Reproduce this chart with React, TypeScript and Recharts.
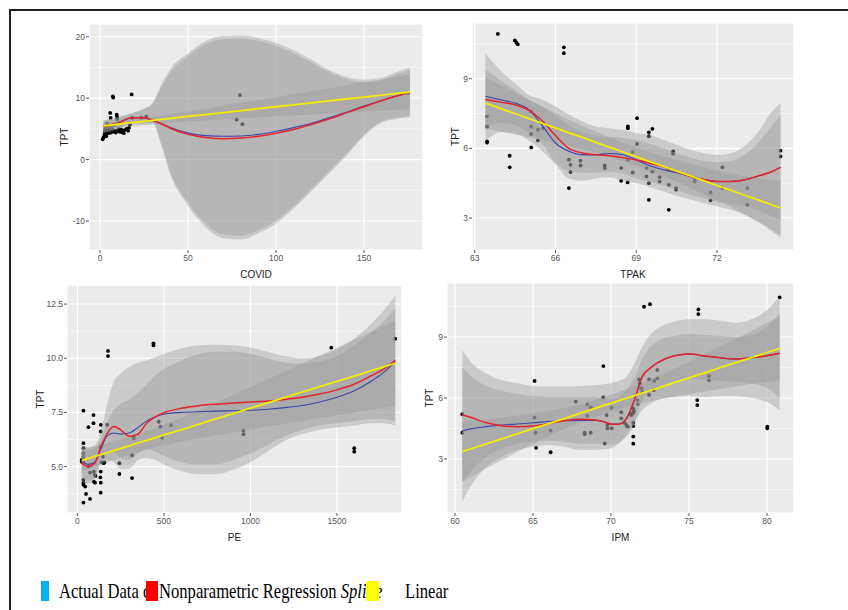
import { ComposedChart, XAxis, YAxis, CartesianGrid, Area, Line, Scatter } from "recharts";

// ---- COVID panel ----
const covidX = [2, 10, 18, 25, 30, 35, 40, 50, 60, 70, 80, 90, 100, 110, 120, 130, 140, 150, 160, 168, 176];
const covidRed = [5.4, 5.9, 6.8, 6.8, 6.4, 5.8, 5.1, 4.1, 3.6, 3.4, 3.5, 3.8, 4.3, 4.9, 5.7, 6.6, 7.6, 8.6, 9.6, 10.3, 10.9];
const covidBlue = [5.5, 6.0, 6.8, 6.8, 6.4, 5.85, 5.2, 4.3, 3.9, 3.8, 3.85, 4.1, 4.6, 5.2, 5.9, 6.8, 7.7, 8.7, 9.6, 10.3, 10.9];
const covidLinear = [5.5, 5.75, 6.0, 6.23, 6.39, 6.54, 6.7, 7.02, 7.33, 7.65, 7.97, 8.28, 8.6, 8.91, 9.23, 9.55, 9.86, 10.18, 10.49, 10.75, 11.0];
const covidBandAHi = [6.4, 6.9, 7.6, 8.3, 9.3, 12.3, 14.8, 17.3, 19.3, 20.1, 20.2, 19.8, 19.0, 17.8, 16.3, 14.6, 13.5, 13.0, 13.3, 14.2, 15.0];
const covidBandALo = [4.3, 4.9, 5.8, 5.9, 5.9, 2.0, -2.5, -7.5, -11.0, -12.8, -13.0, -12.0, -10.4, -8.0, -5.2, -2.3, 0.6, 3.8, 6.0, 6.6, 6.9];
const covidBandBHi = [6.3, 6.8, 7.5, 8.2, 9.1, 11.8, 14.2, 16.8, 18.8, 19.6, 19.7, 19.3, 18.5, 17.3, 15.8, 14.2, 13.1, 12.6, 12.9, 13.8, 14.6];
const covidBandBLo = [4.4, 5.0, 5.9, 6.0, 6.0, 2.6, -2.0, -7.0, -10.4, -12.2, -12.4, -11.5, -9.9, -7.6, -4.8, -1.9, 1.0, 4.1, 6.2, 6.8, 7.1];
const covidLinLo = [4.9, 5.2, 5.45, 5.63, 5.77, 5.89, 6.0, 6.22, 6.38, 6.55, 6.72, 6.88, 7.05, 7.16, 7.33, 7.5, 7.66, 7.78, 7.94, 8.1, 8.2];
const covidLinHi = [6.1, 6.3, 6.55, 6.83, 7.01, 7.19, 7.4, 7.82, 8.28, 8.75, 9.22, 9.68, 10.15, 10.66, 11.13, 11.6, 12.06, 12.58, 13.04, 13.4, 13.8];
const covidPoints: [number, number][] = [
  [1.5, 3.3], [2, 3.6], [2.5, 4.0], [2.8, 4.4], [3, 4.7], [3, 5.0], [3.2, 5.4], [3.5, 3.8], [3.8, 4.2], [4, 5.8],
  [4.2, 4.5], [4.5, 4.9], [5, 4.3], [5, 5.2], [5.5, 4.6], [5.8, 7.6], [6, 6.8], [6.2, 4.4], [6.5, 5.1], [7, 4.8],
  [7.3, 10.3], [7.5, 10.1], [7.8, 4.5], [8, 5.6], [8.5, 4.7], [9, 4.4], [9.5, 7.3], [9.7, 7.0], [9.8, 6.6], [10, 4.6],
  [10.5, 5.0], [11, 4.8], [11.5, 4.5], [12, 4.9], [12.5, 4.5], [13, 4.7], [13.5, 4.3], [14, 4.8], [15, 5.0], [16, 4.7],
  [16.5, 5.2], [17, 5.7], [18, 10.6], [18.3, 6.8], [23.4, 6.8], [26.3, 7.0], [77.6, 6.5], [79.5, 10.5], [80.9, 5.75], [175, 10.85],
];

// ---- TPAK panel ----
const tpakX = [63.4, 64, 64.5, 65, 65.5, 66, 66.5, 67, 67.5, 68, 68.5, 69, 69.5, 70, 70.5, 71, 71.5, 72, 72.5, 73, 73.5, 74, 74.36];
const tpakRed = [8.1, 7.98, 7.88, 7.65, 7.2, 6.55, 6.0, 5.8, 5.72, 5.68, 5.6, 5.5, 5.36, 5.22, 5.0, 4.79, 4.66, 4.57, 4.57, 4.64, 4.8, 4.98, 5.18];
const tpakBlue = [8.24, 8.08, 7.95, 7.68, 7.0, 6.23, 5.87, 5.72, 5.72, 5.78, 5.72, 5.5, 5.25, 5.08, 4.95, 4.8, 4.66, 4.57, 4.57, 4.64, 4.8, 4.98, 5.18];
const tpakLinear = [7.95, 7.7, 7.5, 7.29, 7.08, 6.88, 6.67, 6.47, 6.26, 6.05, 5.85, 5.64, 5.43, 5.23, 5.02, 4.82, 4.61, 4.4, 4.2, 3.99, 3.79, 3.58, 3.43];
const tpakBandAHi = [10.1, 9.3, 8.8, 8.3, 8.1, 7.8, 7.45, 7.16, 6.94, 6.87, 6.8, 6.66, 6.58, 6.37, 6.15, 5.94, 5.8, 5.72, 5.79, 6.08, 6.66, 7.52, 7.95];
const tpakBandALo = [6.3, 6.7, 6.65, 6.35, 5.9, 5.3, 4.7, 4.6, 4.7, 4.75, 4.6, 4.5, 4.35, 4.15, 3.95, 3.8, 3.65, 3.5, 3.35, 3.15, 2.85, 2.45, 2.15];
const tpakBandBHi = [9.4, 8.9, 8.5, 8.1, 7.8, 7.4, 7.0, 6.7, 6.55, 6.5, 6.45, 6.35, 6.2, 6.0, 5.8, 5.6, 5.45, 5.4, 5.45, 5.7, 6.2, 6.9, 7.4];
const tpakBandBLo = [6.9, 7.1, 7.0, 6.7, 6.2, 5.4, 5.0, 4.95, 4.95, 5.0, 4.9, 4.7, 4.55, 4.4, 4.2, 4.0, 3.85, 3.7, 3.6, 3.5, 3.35, 3.1, 2.9];
const tpakLinLo = [6.85, 6.7, 6.6, 6.49, 6.36, 6.24, 6.11, 5.97, 5.81, 5.63, 5.45, 5.24, 5.02, 4.8, 4.55, 4.3, 4.03, 3.75, 3.47, 3.17, 2.87, 2.53, 2.28];
const tpakLinHi = [9.05, 8.7, 8.4, 8.09, 7.8, 7.52, 7.23, 6.97, 6.71, 6.47, 6.25, 6.04, 5.84, 5.66, 5.49, 5.34, 5.19, 5.05, 4.93, 4.81, 4.71, 4.63, 4.58];
const tpakPoints: [number, number][] = [
  [63.86, 10.93], [64.49, 10.65], [64.55, 10.56], [64.6, 10.48], [66.31, 10.35], [66.31, 10.1],
  [63.46, 7.38], [63.46, 6.94], [63.46, 6.3], [63.46, 6.25], [64.3, 5.68], [64.3, 5.18],
  [65.1, 7.59], [65.1, 6.94], [65.1, 6.62], [65.1, 6.04], [65.35, 6.8], [65.35, 6.34], [65.53, 6.87],
  [66.5, 5.51], [66.56, 5.29], [66.56, 4.98], [66.5, 4.29], [66.93, 5.47], [66.93, 5.26],
  [67.83, 5.26], [67.83, 5.15], [68.44, 5.15], [68.44, 4.6], [68.68, 4.53], [68.69, 6.94], [68.69, 6.87], [68.69, 5.51],
  [68.87, 4.96], [68.87, 5.84], [69.03, 7.3], [69.03, 6.19], [69.38, 5.15], [69.38, 4.79], [69.47, 6.69], [69.47, 6.52],
  [69.6, 6.84], [69.47, 4.5], [69.47, 3.78], [69.6, 5.0], [69.87, 4.76], [69.87, 4.57], [70.21, 5.1], [70.21, 4.43],
  [70.21, 3.35], [70.37, 5.87], [70.37, 5.77], [70.48, 4.29], [70.48, 4.22], [71.17, 4.57], [71.17, 4.64],
  [71.76, 4.1], [71.76, 3.76], [72.2, 5.19], [72.2, 4.29], [73.13, 4.29], [73.13, 3.57], [74.36, 5.9], [74.36, 5.65],
];

// ---- PE panel ----
const peX = [25, 60, 100, 135, 170, 210, 250, 300, 350, 400, 450, 500, 600, 700, 800, 900, 1000, 1100, 1200, 1300, 1400, 1500, 1600, 1700, 1770, 1837];
const peRed = [5.2, 5.0, 5.15, 5.9, 6.5, 6.85, 6.7, 6.4, 6.5, 7.0, 7.3, 7.49, 7.69, 7.81, 7.88, 7.93, 7.98, 8.03, 8.1, 8.2, 8.35, 8.54, 8.8, 9.2, 9.5, 9.9];
const peBlue = [5.35, 5.1, 5.2, 5.8, 6.4, 6.55, 6.5, 6.55, 6.8, 7.1, 7.3, 7.42, 7.5, 7.53, 7.56, 7.58, 7.6, 7.65, 7.72, 7.82, 7.98, 8.2, 8.5, 8.95, 9.35, 9.85];
const peLinear = [5.28, 5.37, 5.47, 5.55, 5.64, 5.74, 5.84, 5.96, 6.09, 6.21, 6.33, 6.46, 6.7, 6.95, 7.2, 7.45, 7.7, 7.94, 8.19, 8.44, 8.69, 8.93, 9.18, 9.43, 9.6, 9.77];
const peBandAHi = [6.1, 5.9, 6.0, 6.6, 7.8, 8.9, 9.3, 9.6, 9.8, 9.9, 10.05, 10.2, 10.45, 10.6, 10.62, 10.6, 10.5, 10.3, 10.1, 10.0, 10.1, 10.4, 10.9, 11.6, 12.2, 12.9];
const peBandALo = [4.3, 4.2, 4.4, 5.1, 5.3, 5.2, 4.9, 4.9, 5.3, 5.4, 5.3, 5.1, 4.8, 4.65, 4.65, 4.85, 5.2, 5.7, 6.2, 6.5, 6.7, 6.8, 6.9, 7.0, 7.0, 6.9];
const peBandBHi = [5.9, 5.75, 5.85, 6.3, 7.0, 7.6, 7.9, 8.1, 8.4, 8.8, 9.2, 9.5, 9.9, 10.2, 10.3, 10.3, 10.2, 10.0, 9.8, 9.75, 9.85, 10.1, 10.6, 11.2, 11.7, 12.3];
const peBandBLo = [4.5, 4.35, 4.5, 5.3, 5.7, 5.7, 5.4, 5.3, 5.6, 5.8, 5.7, 5.5, 5.2, 5.1, 5.1, 5.3, 5.6, 6.0, 6.4, 6.7, 6.9, 7.0, 7.1, 7.2, 7.2, 7.1];
const peLinLo = [4.78, 4.89, 5.01, 5.1, 5.2, 5.31, 5.42, 5.54, 5.67, 5.78, 5.88, 5.98, 6.15, 6.3, 6.45, 6.59, 6.73, 6.86, 6.99, 7.12, 7.25, 7.37, 7.5, 7.63, 7.72, 7.81];
const peLinHi = [5.78, 5.85, 5.93, 6.0, 6.08, 6.17, 6.26, 6.38, 6.51, 6.64, 6.78, 6.94, 7.25, 7.6, 7.95, 8.31, 8.67, 9.02, 9.39, 9.76, 10.13, 10.49, 10.86, 11.23, 11.48, 11.73];
const pePoints: [number, number][] = [
  [25, 5.31], [25, 5.23], [35, 7.58], [35, 6.08], [35, 5.85], [35, 5.62], [35, 5.46], [35, 5.16], [35, 4.39], [35, 4.26],
  [35, 4.16], [35, 3.34], [45, 4.08], [50, 3.74], [64, 6.82], [64, 5.0], [73, 3.51], [73, 4.72], [93, 7.38], [93, 7.0],
  [95, 4.77], [100, 4.62], [105, 4.57], [95, 4.31], [102, 4.26], [135, 6.93], [135, 6.62], [135, 5.92], [135, 4.77], [133, 4.5],
  [135, 4.26], [135, 3.8], [141, 5.2], [147, 5.46], [152, 5.16], [156, 5.2], [173, 6.93], [177, 10.34], [177, 10.1], [243, 5.16],
  [243, 4.66], [316, 5.53], [316, 4.47], [326, 6.31], [326, 6.38], [440, 10.69], [440, 10.6], [470, 7.07], [480, 6.84], [490, 6.33],
  [542, 6.91], [960, 6.66], [960, 6.49], [1467, 10.49], [1600, 5.85], [1600, 5.69], [1837, 10.9],
];

// ---- IPM panel ----
const ipmX = [60.47, 61, 62, 63, 64, 65, 66, 67, 68, 69, 69.5, 70, 70.5, 71, 71.5, 72, 72.5, 73, 74, 75, 76, 77, 78, 79, 80, 80.81];
const ipmRed = [5.16, 5.05, 4.78, 4.64, 4.59, 4.62, 4.75, 4.88, 4.95, 4.92, 4.84, 4.71, 4.71, 5.0, 5.9, 7.05, 7.46, 7.74, 8.07, 8.16, 8.07, 7.98, 7.92, 7.98, 8.08, 8.2];
const ipmBlue = [4.38, 4.48, 4.59, 4.67, 4.72, 4.78, 4.84, 4.88, 4.9, 4.9, 4.84, 4.73, 4.72, 5.0, 5.9, 7.05, 7.46, 7.74, 8.07, 8.16, 8.07, 7.98, 7.92, 7.98, 8.08, 8.2];
const ipmLinear = [3.36, 3.49, 3.74, 3.99, 4.24, 4.49, 4.74, 4.99, 5.24, 5.49, 5.62, 5.74, 5.87, 5.99, 6.12, 6.24, 6.37, 6.49, 6.74, 6.99, 7.24, 7.49, 7.74, 7.99, 8.24, 8.44];
const ipmBandAHi = [8.36, 7.79, 7.21, 6.88, 6.72, 6.59, 6.56, 6.56, 6.59, 6.64, 6.68, 6.72, 6.85, 7.05, 7.7, 8.52, 9.1, 9.43, 9.75, 9.87, 9.87, 9.8, 9.7, 9.87, 10.33, 10.98];
const ipmBandALo = [0.9, 1.64, 2.62, 3.11, 3.44, 3.6, 3.69, 3.6, 3.44, 3.44, 3.48, 3.52, 3.77, 4.2, 4.8, 5.4, 5.7, 5.9, 6.05, 6.1, 6.05, 6.1, 6.1, 6.0, 5.8, 5.4];
const ipmBandBHi = [7.5, 7.1, 6.6, 6.35, 6.2, 6.1, 6.05, 6.05, 6.05, 6.05, 6.0, 5.95, 6.05, 6.4, 7.0, 7.9, 8.5, 8.8, 9.05, 9.15, 9.1, 9.05, 9.0, 9.1, 9.5, 10.2];
const ipmBandBLo = [1.9, 2.4, 3.1, 3.5, 3.75, 3.85, 3.9, 3.85, 3.75, 3.75, 3.75, 3.7, 3.8, 4.1, 4.7, 5.9, 6.3, 6.5, 6.8, 6.95, 6.9, 6.85, 6.8, 6.7, 6.5, 6.0];
const ipmLinLo = [1.86, 2.09, 2.54, 2.94, 3.34, 3.74, 4.12, 4.47, 4.79, 5.07, 5.2, 5.32, 5.44, 5.54, 5.64, 5.74, 5.83, 5.91, 6.06, 6.19, 6.32, 6.44, 6.56, 6.69, 6.79, 6.89];
const ipmLinHi = [4.86, 4.89, 4.94, 5.04, 5.14, 5.24, 5.36, 5.51, 5.69, 5.91, 6.04, 6.16, 6.3, 6.44, 6.6, 6.74, 6.91, 7.07, 7.42, 7.79, 8.16, 8.54, 8.92, 9.29, 9.69, 9.99];
const ipmPoints: [number, number][] = [
  [60.47, 5.2], [60.47, 4.29], [65.1, 6.84], [65.1, 5.03], [65.17, 4.29], [65.2, 3.55], [66.13, 3.33], [66.13, 4.39],
  [67.74, 5.82], [68.31, 4.29], [68.31, 4.22], [68.48, 5.69], [68.48, 5.13], [68.7, 5.54], [68.7, 4.29], [69.51, 7.57],
  [69.51, 6.03], [69.6, 3.77], [69.72, 5.16], [69.77, 4.67], [69.77, 4.51], [70.04, 5.52], [70.04, 4.51], [70.66, 5.3],
  [70.66, 5.0], [70.9, 4.75], [71.0, 4.64], [71.09, 4.59], [71.26, 5.2], [71.3, 5.16], [71.4, 5.25], [71.45, 5.31],
  [71.47, 5.37], [71.43, 5.49], [71.43, 4.79], [71.43, 4.62], [71.43, 4.1], [71.43, 3.75], [71.8, 6.92], [71.85, 6.72],
  [71.95, 6.48], [72.0, 6.31], [71.7, 5.9], [71.72, 5.7], [72.12, 10.49], [72.5, 10.62], [72.44, 6.92], [72.44, 6.15],
  [72.74, 6.39], [72.78, 6.84], [72.97, 7.38], [72.97, 6.97], [75.6, 10.36], [75.6, 10.13], [75.53, 5.9], [75.53, 5.65],
  [76.28, 7.08], [76.28, 6.88], [80.02, 4.59], [80.02, 4.51], [80.81, 10.95],
];

const SANS = "'Liberation Sans', Arial, sans-serif";
const SERIF = "'Liberation Serif', 'Times New Roman', serif";

type PanelProps = {
  xs: number[];
  red: number[];
  blue: number[];
  linear: number[];
  aLo: number[];
  aHi: number[];
  bLo: number[];
  bHi: number[];
  lLo: number[];
  lHi: number[];
  points: [number, number][];
  xLabel: string;
  plot: { l: number; t: number; r: number; b: number };
  yw: number;
  xDomain: [number, number];
  yDomain: [number, number];
  xTicks: number[];
  xMinor: number[];
  yTicks: number[];
  yMinor: number[];
  yFmt?: (v: number) => string;
};

const dot = (p: any) => <circle cx={p.cx} cy={p.cy} r={1.9} fill="#000" />;

const XH = 40;

function Panel(props: PanelProps) {
  const { plot, yw } = props;
  const rows = props.xs.map((x, i) => ({
    x,
    bandA: [props.aLo[i], props.aHi[i]],
    bandB: [props.bLo[i], props.bHi[i]],
    bandL: [props.lLo[i], props.lHi[i]],
    red: props.red[i],
    blue: props.blue[i],
    linear: props.linear[i],
  }));
  const pts = props.points.map(([x, y]) => ({ x, y }));
  const top = 4;
  const right = 4;
  const width = plot.r - plot.l + yw + right;
  const height = plot.b - plot.t + top + XH;
  const tickStyle = { fontSize: 8.5, fill: "#555", fontFamily: SANS };
  const labelStyle = { fontSize: 10, fill: "#222", fontFamily: SANS };
  const layer = { position: "absolute" as const, left: 0, top: 0 };

  return (
    <div style={{ position: "absolute", left: plot.l - yw, top: plot.t - top, width, height }}>
      {/* bottom layer: background, grid, axes and the observed points */}
      <div style={layer}>
        <ComposedChart width={width} height={height} data={rows} margin={{ top, right, bottom: 0, left: 0 }}>
          <XAxis
            dataKey="x"
            type="number"
            domain={props.xDomain}
            allowDataOverflow
            ticks={props.xTicks}
            height={XH}
            axisLine={false}
            tickSize={3}
            tickLine={{ stroke: "#555" }}
            tick={tickStyle}
            label={{ value: props.xLabel, position: "center", dy: 4, ...labelStyle }}
          />
          <YAxis
            type="number"
            domain={props.yDomain}
            allowDataOverflow
            ticks={props.yTicks}
            width={yw}
            axisLine={false}
            tickSize={3}
            tickMargin={1}
            tickLine={{ stroke: "#555" }}
            tick={tickStyle}
            tickFormatter={props.yFmt}
            label={{ value: "TPT", angle: -90, position: "center", ...labelStyle }}
          />
          <XAxis xAxisId="minor" type="number" domain={props.xDomain} allowDataOverflow ticks={props.xMinor} hide />
          <YAxis yAxisId="minor" type="number" domain={props.yDomain} allowDataOverflow ticks={props.yMinor} hide />
          <CartesianGrid fill="#ebebeb" fillOpacity={1} stroke="#ffffff" strokeWidth={1.1} />
          <CartesianGrid xAxisId="minor" yAxisId="minor" stroke="#ffffff" strokeWidth={0.55} />
          <Scatter data={pts} dataKey="y" shape={dot} isAnimationActive={false} />
        </ComposedChart>
      </div>
      {/* top layer: confidence bands and fitted curves, drawn over the points */}
      <div style={layer}>
        <ComposedChart width={width} height={height} data={rows} margin={{ top, right, bottom: XH, left: yw }}>
          <XAxis dataKey="x" type="number" domain={props.xDomain} allowDataOverflow hide />
          <YAxis type="number" domain={props.yDomain} allowDataOverflow hide />
          <Area dataKey="bandA" type="monotone" stroke="none" fill="#999999" fillOpacity={0.4} dot={false} activeDot={false} isAnimationActive={false} />
          <Area dataKey="bandB" type="monotone" stroke="none" fill="#999999" fillOpacity={0.4} dot={false} activeDot={false} isAnimationActive={false} />
          <Area dataKey="bandL" type="monotone" stroke="none" fill="#999999" fillOpacity={0.4} dot={false} activeDot={false} isAnimationActive={false} />
          <Line dataKey="blue" type="monotone" stroke="#3b44a8" strokeWidth={1.1} dot={false} activeDot={false} isAnimationActive={false} />
          <Line dataKey="red" type="monotone" stroke="#e8212c" strokeWidth={1.5} dot={false} activeDot={false} isAnimationActive={false} />
          <Line dataKey="linear" type="linear" stroke="#f2ee00" strokeWidth={1.8} dot={false} activeDot={false} isAnimationActive={false} />
        </ComposedChart>
      </div>
    </div>
  );
}

export default function App() {
  const legendText = {
    position: "absolute" as const,
    top: 580,
    fontFamily: SERIF,
    fontSize: 22,
    lineHeight: "22px",
    color: "#000",
    whiteSpace: "nowrap" as const,
    transform: "scaleX(0.755)",
    transformOrigin: "left center",
  };
  const sq = (left: number, w: number, color: string) => (
    <div style={{ position: "absolute", left, top: 581, width: w, height: 20, background: color }} />
  );

  return (
    <div style={{ position: "absolute", left: 0, top: 0, width: 848, height: 610, background: "#fff", overflow: "hidden" }}>
      <div style={{ position: "absolute", left: 9, top: 9, width: 839, height: 1.5, background: "#222" }} />
      <div style={{ position: "absolute", left: 9, top: 9, width: 1.5, height: 601, background: "#222" }} />

      <Panel
        xs={covidX} red={covidRed} blue={covidBlue} linear={covidLinear}
        aLo={covidBandALo} aHi={covidBandAHi} bLo={covidBandBLo} bHi={covidBandBHi} lLo={covidLinLo} lHi={covidLinHi}
        points={covidPoints} xLabel="COVID"
        plot={{ l: 89, t: 24, r: 423, b: 250 }} yw={50}
        xDomain={[-6.25, 183.5]} yDomain={[-14.72, 22.07]}
        xTicks={[0, 50, 100, 150]} xMinor={[25, 75, 125, 175]}
        yTicks={[-10, 0, 10, 20]} yMinor={[-5, 5, 15]}
      />
      <Panel
        xs={tpakX} red={tpakRed} blue={tpakBlue} linear={tpakLinear}
        aLo={tpakBandALo} aHi={tpakBandAHi} bLo={tpakBandBLo} bHi={tpakBandBHi} lLo={tpakLinLo} lHi={tpakLinHi}
        points={tpakPoints} xLabel="TPAK"
        plot={{ l: 472, t: 23, r: 794, b: 250 }} yw={33}
        xDomain={[62.9, 74.86]} yDomain={[1.62, 11.4]}
        xTicks={[63, 66, 69, 72]} xMinor={[64.5, 67.5, 70.5, 73.5]}
        yTicks={[3, 6, 9]} yMinor={[4.5, 7.5, 10.5]}
      />
      <Panel
        xs={peX} red={peRed} blue={peBlue} linear={peLinear}
        aLo={peBandALo} aHi={peBandAHi} bLo={peBandBLo} bHi={peBandBHi} lLo={peLinLo} lHi={peLinHi}
        points={pePoints} xLabel="PE"
        plot={{ l: 67, t: 285, r: 402, b: 513 }} yw={54}
        xDomain={[-60, 1876]} yDomain={[2.86, 13.38]}
        xTicks={[0, 500, 1000, 1500]} xMinor={[250, 750, 1250, 1750]}
        yTicks={[5, 7.5, 10, 12.5]} yMinor={[3.75, 6.25, 8.75, 11.25]}
        yFmt={(v) => v.toFixed(1)}
      />
      <Panel
        xs={ipmX} red={ipmRed} blue={ipmBlue} linear={ipmLinear}
        aLo={ipmBandALo} aHi={ipmBandAHi} bLo={ipmBandBLo} bHi={ipmBandBHi} lLo={ipmLinLo} lHi={ipmLinHi}
        points={ipmPoints} xLabel="IPM"
        plot={{ l: 447, t: 283, r: 794, b: 513 }} yw={36}
        xDomain={[59.49, 81.73]} yDomain={[0.34, 11.66]}
        xTicks={[60, 65, 70, 75, 80]} xMinor={[62.5, 67.5, 72.5, 77.5]}
        yTicks={[3, 6, 9]} yMinor={[1.5, 4.5, 7.5, 10.5]}
      />

      <div style={{ ...legendText, left: 59 }}>Actual Data d</div>
      <div style={{ ...legendText, left: 159 }}>
        Nonparametric Regression <i>Spline</i>
      </div>
      <div style={{ ...legendText, left: 405 }}>Linear</div>
      {sq(41, 8, "#00b0f0")}
      {sq(146, 12, "#ff0000")}
      {sq(366, 12.5, "#ffff00")}
    </div>
  );
}
